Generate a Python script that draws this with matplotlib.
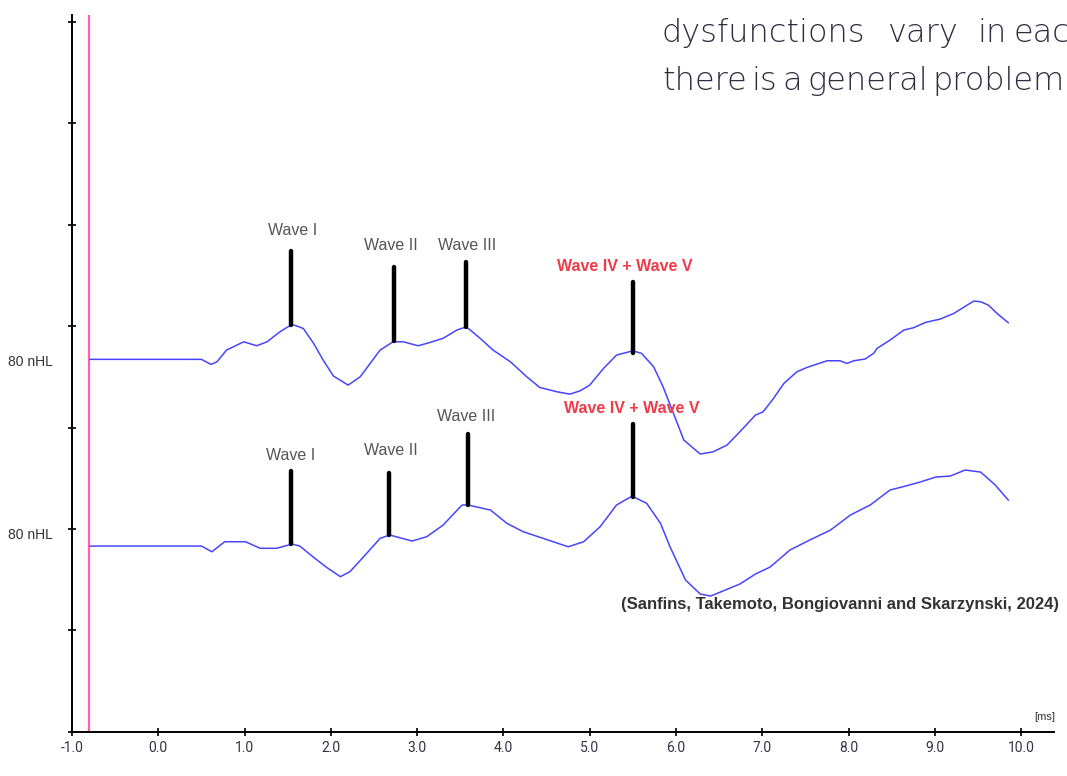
import numpy as np
import matplotlib.pyplot as plt

# top trace (ms, arbitrary units)
top_t = [-0.79, 0.50, 0.61, 0.68, 0.79, 0.99, 1.14, 1.26, 1.41, 1.55, 1.68, 1.80, 1.91, 2.03, 2.20,
         2.34, 2.57, 2.72, 2.84, 3.01, 3.11, 3.30, 3.46, 3.57, 3.73, 3.88, 4.08, 4.27, 4.42, 4.62,
         4.77, 4.89, 5.00, 5.16, 5.31, 5.50, 5.60, 5.74, 5.85, 5.97, 6.09, 6.28, 6.43, 6.59, 6.74,
         6.92, 7.01, 7.13, 7.25, 7.40, 7.52, 7.75, 7.90, 7.98, 8.06, 8.19, 8.29, 8.33, 8.48, 8.64,
         8.75, 8.89, 9.06, 9.22, 9.33, 9.45, 9.53, 9.62, 9.72, 9.85]
top_v = [3.673, 3.673, 3.623, 3.649, 3.764, 3.846, 3.807, 3.846, 3.945, 4.018, 3.978, 3.830, 3.666, 3.508, 3.419,
         3.501, 3.764, 3.846, 3.846, 3.807, 3.830, 3.880, 3.962, 3.994, 3.880, 3.764, 3.649, 3.501, 3.396, 3.353,
         3.330, 3.363, 3.419, 3.584, 3.715, 3.757, 3.732, 3.600, 3.402, 3.140, 2.877, 2.739, 2.761, 2.827, 2.959,
         3.123, 3.156, 3.288, 3.436, 3.550, 3.594, 3.659, 3.659, 3.633, 3.659, 3.676, 3.732, 3.781, 3.863, 3.962,
         3.984, 4.037, 4.070, 4.126, 4.185, 4.248, 4.241, 4.208, 4.126, 4.034]

# bottom trace
bot_t = [-0.79, 0.50, 0.62, 0.77, 1.01, 1.18, 1.37, 1.55, 1.64, 1.80, 1.95, 2.11, 2.22, 2.38, 2.57,
         2.68, 2.80, 2.94, 3.11, 3.30, 3.52, 3.59, 3.85, 4.04, 4.23, 4.46, 4.75, 4.93, 5.12, 5.31,
         5.49, 5.66, 5.82, 5.93, 6.11, 6.28, 6.40, 6.57, 6.74, 6.92, 7.09, 7.32, 7.55, 7.79, 8.02,
         8.25, 8.48, 8.66, 8.83, 9.01, 9.18, 9.35, 9.53, 9.70, 9.85]
bot_v = [1.831, 1.831, 1.775, 1.874, 1.874, 1.809, 1.809, 1.851, 1.831, 1.720, 1.621, 1.529, 1.578, 1.726, 1.907,
         1.940, 1.913, 1.881, 1.923, 2.038, 2.236, 2.236, 2.186, 2.055, 1.972, 1.907, 1.824, 1.874, 2.022, 2.236,
         2.324, 2.252, 2.055, 1.824, 1.496, 1.358, 1.338, 1.397, 1.457, 1.555, 1.624, 1.792, 1.891, 1.989, 2.137,
         2.236, 2.384, 2.423, 2.463, 2.512, 2.522, 2.581, 2.561, 2.433, 2.285]

# wave markers: latency, foot, head, label position
wave_names = ['Wave I', 'Wave II', 'Wave III', 'Wave IV + Wave V']
top_lat = [1.54, 2.73, 3.57, 5.50]
top_foot = [4.01, 3.85, 3.99, 3.74]
top_head = [4.74, 4.58, 4.63, 4.44]
top_lab_x = [1.56, 2.69, 3.58, 5.41]
top_lab_y = [4.94, 4.80, 4.80, 4.59]

bot_lat = [1.54, 2.67, 3.59, 5.50]
bot_foot = [1.85, 1.94, 2.24, 2.32]
bot_head = [2.57, 2.55, 2.94, 3.04]
bot_lab_x = [1.53, 2.69, 3.57, 5.49]
bot_lab_y = [2.72, 2.77, 3.11, 3.19]

xticks = [-1, 0, 1, 2, 3, 4, 5, 6, 7, 8, 9, 10]
stim_t = -0.8

fig = plt.figure(figsize=(10.67, 7.76), dpi=100)
ax = fig.add_axes([0.0675, 0.0571, 0.9203, 0.9236])
ax.set_xlim(-1, 10.38)
ax.set_ylim(0, 7.07)

ax.axvline(stim_t, color='#ff5fb0', lw=1.6)
ax.plot(top_t, top_v, color='#4646ff', lw=1.1, solid_joinstyle='round')
ax.plot(bot_t, bot_v, color='#4646ff', lw=1.1, solid_joinstyle='round')

for i in range(4):
    red = i == 3
    col = '#f03a48' if red else '#555555'
    wt = 'bold' if red else 'normal'
    ax.plot([top_lat[i], top_lat[i]], [top_foot[i], top_head[i]], color='black', lw=3.2, solid_capstyle='round')
    ax.plot([bot_lat[i], bot_lat[i]], [bot_foot[i], bot_head[i]], color='black', lw=3.2, solid_capstyle='round')
    ax.text(top_lab_x[i], top_lab_y[i], wave_names[i], ha='center', va='center', fontsize=11.5,
            color=col, fontweight=wt, family='Liberation Sans')
    ax.text(bot_lab_x[i], bot_lab_y[i], wave_names[i], ha='center', va='center', fontsize=11.5,
            color=col, fontweight=wt, family='Liberation Sans')

ax.text(-1.74, 3.65, '80 nHL', ha='left', va='center', fontsize=10, color='#333333',
        family='Liberation Sans', clip_on=False)
ax.text(-1.74, 1.94, '80 nHL', ha='left', va='center', fontsize=10, color='#333333',
        family='Liberation Sans', clip_on=False)
ax.text(10.39, 0.14, '[ms]', ha='right', va='center', fontsize=8, color='#333333', family='Liberation Sans')
ax.text(7.90, 1.25, '(Sanfins, Takemoto, Bongiovanni and Skarzynski, 2024)', ha='center', va='center',
        fontsize=12, fontweight='bold', color='#333333', family='Liberation Sans')

ax.set_xticks(xticks)
ax.set_xticklabels(['%.1f' % v for v in xticks], fontsize=10, color='#333344', family='Roboto')
ax.set_yticks(range(8))
ax.set_yticklabels([])
ax.tick_params(direction='inout', length=6, width=1.2, pad=4, colors='black')
ax.tick_params(axis='x', labelcolor='#333344')
for s in ['top', 'right']:
    ax.spines[s].set_visible(False)
for s in ['left', 'bottom']:
    ax.spines[s].set_linewidth(1.4)

# cropped slide text in the top right corner (justified line, then a squeezed one)
words1 = ['dysfunctions', 'vary', 'in', 'each']
x1 = [662, 888, 977, 1013]
words2 = ['there', 'is', 'a', 'general', 'problem']
for w, x in zip(words1, x1):
    fig.text(x / 1067, 1 - 42 / 776, w, ha='left', va='baseline', fontsize=23, color='#2e2e40',
             family='DejaVu Sans', fontweight='light')
renderer = fig.canvas.get_renderer()
x = 662
for w in words2:
    t = fig.text(x / 1067, 1 - 90 / 776, w, ha='left', va='baseline', fontsize=23, color='#2e2e40',
                 family='DejaVu Sans', fontweight='light')
    x = t.get_window_extent(renderer).x1 + 5

plt.savefig('out.png', dpi=100)
